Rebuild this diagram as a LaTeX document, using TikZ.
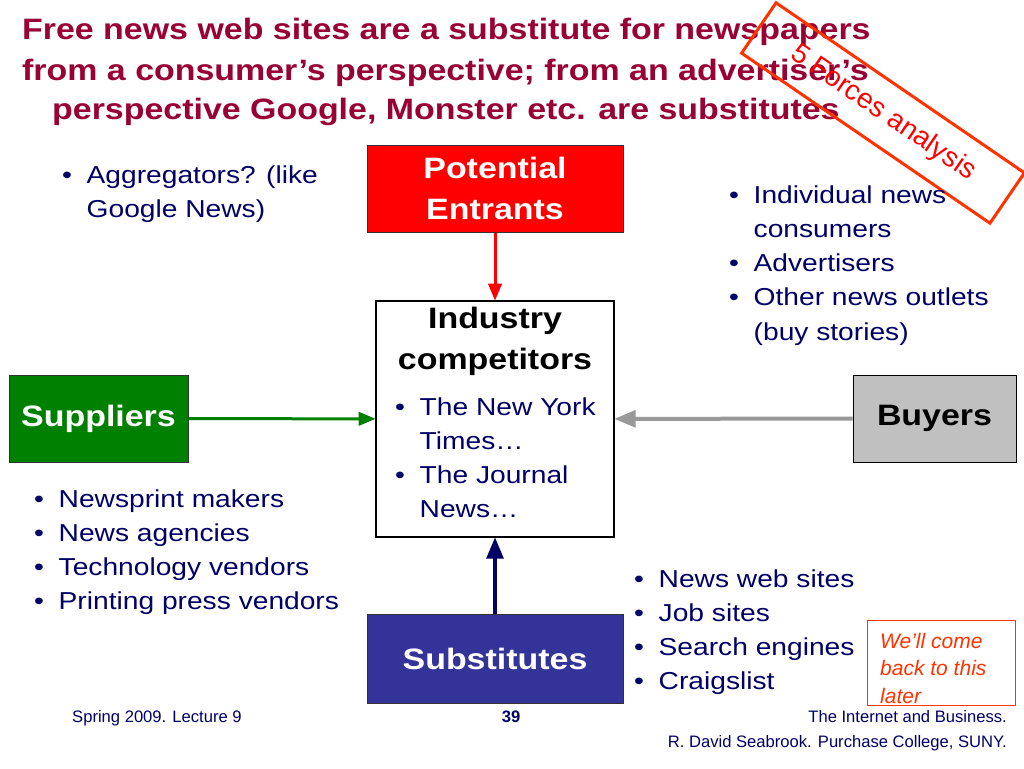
\documentclass[tikz,border=0pt]{standalone}
\usepackage{fontspec}
\setmainfont{Liberation Sans}[FakeStretch=1.15]
\newfontfamily\plainsans{Liberation Sans}
\usetikzlibrary{arrows, positioning}
\definecolor{titlered}{RGB}{153, 0, 51}
\definecolor{navytext}{RGB}{0, 0, 102}
\definecolor{entrantred}{RGB}{255, 0, 0}
\definecolor{supplygreen}{RGB}{0, 128, 0}
\definecolor{buyergray}{RGB}{192, 192, 192}
\definecolor{arrowgray}{RGB}{153, 153, 153}
\definecolor{subsblue}{RGB}{51, 51, 153}
\definecolor{noteorange}{RGB}{255, 51, 0}
\newcommand{\blist}[1]{\begin{tabular}[t]{@{}p{24.5pt}@{}l@{}}#1\end{tabular}}
\newcommand{\clines}[1]{\begin{tabular}[t]{@{}c@{}}#1\end{tabular}}

\begin{document}
\begin{tikzpicture}[x=1pt, y=-1pt,
    forcebox/.style={draw=black!80, line width=1pt, inner sep=0pt, align=center,
      font=\fontsize{29.5}{41}\selectfont\bfseries},
    bullets/.style={anchor=base west, inner sep=0pt, text=navytext,
      font=\fontsize{24.5}{34.3}\selectfont},
    titleline/.style={anchor=base west, inner sep=0pt, text=titlered,
      font=\fontsize{29.5}{40}\selectfont\bfseries},
    footer/.style={inner sep=0pt, text=navytext, font=\plainsans\fontsize{16.6}{20}\selectfont},
    force/.style={-triangle 45, line width=3pt}]
  \useasboundingbox[fill=white] (0,0) rectangle (1024,768);

  % title
  \node[titleline] (title1) at (22,40) {Free news web sites are a substitute for newspapers};
  \node[titleline] (title2) at (22,80) {from a consumer’s perspective; from an advertiser’s};
  \node[titleline] (title3) at (52,119) {perspective Google, Monster etc. are substitutes};
  \node[draw=noteorange, line width=3pt, rotate=-34.4, minimum width=301pt, minimum height=61pt,
        inner sep=0pt, text=entrantred, font=\plainsans\fontsize{28}{30}\selectfont]
        (forces) at (883,113) {5 Forces analysis\hspace{36pt}};

  % the five boxes
  \node[forcebox, fill=entrantred, text=white, minimum width=256pt, minimum height=87pt]
        (entrants) at (495,188.5) {Potential\\Entrants};
  \node[draw=black, line width=1.2pt, fill=white, minimum width=238pt, minimum height=236pt]
        (industry) at (495,419) {};
  \node[forcebox, fill=supplygreen, text=white, minimum width=179pt, minimum height=87pt]
        (suppliers) at (98.5,418.5) {Suppliers};
  \node[forcebox, draw=black, fill=buyergray, text=black, minimum width=163pt, minimum height=87pt]
        (buyers) at (934.5,418.5) {Buyers};
  \node[forcebox, draw=black!80, fill=subsblue, text=white, minimum width=256pt, minimum height=89pt]
        (substitutes) at (495,658.5) {Substitutes};

  \node[anchor=base, inner sep=0pt, font=\fontsize{29.5}{41}\selectfont\bfseries]
        (industrytitle) at (495,328) {\clines{Industry\\competitors}};
  \node[bullets] (competitors) at (395,415)
        {\blist{\textbullet & The New York\\ & Times…\\ \textbullet & The Journal\\ & News…}};

  % arrows
  \draw[force, entrantred] (entrants) -- (industry);
  \draw[force, supplygreen] (suppliers) -- (industry);
  \draw[force, arrowgray, line width=4pt] (buyers) -- (industry);
  \draw[force, navytext, line width=4pt] (substitutes) -- (industry);

  % bullet lists
  \node[bullets] (aggregators) at (62,183)
        {\blist{\textbullet & Aggregators? (like\\ & Google News)}};
  \node[bullets] (buyerlist) at (729,203)
        {\blist{\textbullet & Individual news\\ & consumers\\ \textbullet & Advertisers\\
                \textbullet & Other news outlets\\ & (buy stories)}};
  \node[bullets] (supplierlist) at (34,507)
        {\blist{\textbullet & Newsprint makers\\ \textbullet & News agencies\\
                \textbullet & Technology vendors\\ \textbullet & Printing press vendors}};
  \node[bullets] (substitutelist) at (634,587)
        {\blist{\textbullet & News web sites\\ \textbullet & Job sites\\
                \textbullet & Search engines\\ \textbullet & Craigslist}};

  % note
  \node[draw=noteorange, line width=0.8pt, minimum width=148pt, minimum height=85pt]
        (note) at (941,662.5) {};
  \node[anchor=base west, inner sep=0pt, text=noteorange,
        font=\plainsans\itshape\fontsize{21}{27.5}\selectfont]
        (notetext) at (880,648) {\begin{tabular}[t]{@{}l@{}}We’ll come\\back to this\\later\end{tabular}};

  % footer
  \node[footer, anchor=base west] (lecture) at (72,722) {Spring 2009. Lecture 9};
  \node[footer, anchor=base, font=\plainsans\fontsize{16.6}{20}\selectfont\bfseries] (page) at (511,722) {39};
  \node[footer, anchor=base east] (course) at (1007,722) {The Internet and Business.};
  \node[footer, anchor=base east] (author) at (1007,747) {R. David Seabrook. Purchase College, SUNY.};
\end{tikzpicture}
\end{document}
